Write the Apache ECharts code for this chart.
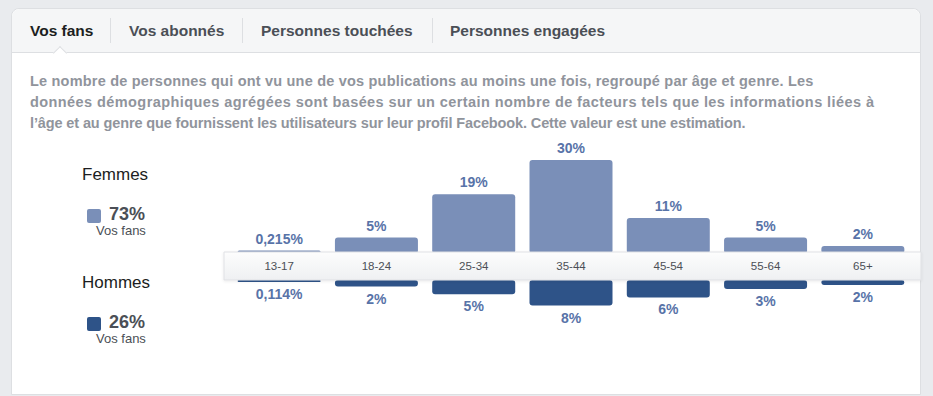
<!DOCTYPE html>
<html lang="fr">
<head>
<meta charset="utf-8">
<title>Vos fans</title>
<script src="https://cdn.jsdelivr.net/npm/echarts@6/dist/echarts.min.js"></script>
<style>
    html, body { margin: 0; padding: 0; }
    body {
        width: 933px; height: 396px; overflow: hidden; position: relative;
        background: #e9ebee;
        font-family: "Liberation Sans", Arial, sans-serif;
    }
    .card {
        position: absolute; left: 11px; top: 8px; width: 908px; height: 385px;
        background: #fff; border: 1px solid #dddfe2; border-radius: 8px 8px 0 0;
    }
    .tabs {
        position: relative; height: 43px; background: #f5f6f7;
        border-bottom: 1px solid #dddfe2; border-radius: 8px 8px 0 0;
    }
    .tab {
        position: absolute; top: 0; line-height: 44px; font-size: 15.5px; font-weight: bold;
        color: #4b4f56; white-space: nowrap;
    }
    .tab.active { color: #1c1e21; }
    .sep { position: absolute; top: 9px; width: 1px; height: 25px; background: #dddfe2; }
    .notch {
        position: absolute; left: 43px; top: 38.5px; width: 9px; height: 9px;
        background: #fff; border-top: 1px solid #dddfe2; border-left: 1px solid #dddfe2;
        transform: rotate(45deg);
    }
    .desc {
        position: absolute; left: 30px; top: 71px; font-size: 14.5px; line-height: 21px;
        letter-spacing: 0.2px; font-weight: bold; color: #90949c; white-space: nowrap;
    }
    .desc .l2 { letter-spacing: 0.42px; }
    .desc .l3 { letter-spacing: -0.12px; }
    .leg-title { position: absolute; left: 82px; font-size: 17px; color: #1c1e21; line-height: 20px; }
    .leg-sq { position: absolute; left: 87px; width: 14px; height: 14px; border-radius: 2px; }
    .leg-pct { position: absolute; left: 109px; font-size: 18px; font-weight: bold; color: #4b4f56; line-height: 16px; }
    .leg-sub { position: absolute; left: 96px; font-size: 13px; color: #4b4f56; line-height: 16px; }
    #chart { position: absolute; left: 0; top: 0; width: 933px; height: 396px; pointer-events: none; }
</style>
</head>
<body>
<div class="card">
    <div class="tabs">
        <span class="tab active" style="left:18px">Vos fans</span>
        <span class="sep" style="left:98px"></span>
        <span class="tab" style="left:117px">Vos abonnés</span>
        <span class="sep" style="left:230px"></span>
        <span class="tab" style="left:249px">Personnes touchées</span>
        <span class="sep" style="left:420px"></span>
        <span class="tab" style="left:438px">Personnes engagées</span>
        <span class="notch"></span>
    </div>
</div>
<div class="desc">
    <span class="l1">Le nombre de personnes qui ont vu une de vos publications au moins une fois, regroupé par âge et genre. Les</span><br>
    <span class="l2">données démographiques agrégées sont basées sur un certain nombre de facteurs tels que les informations liées à</span><br>
    <span class="l3">l’âge et au genre que fournissent les utilisateurs sur leur profil Facebook. Cette valeur est une estimation.</span>
</div>

<div class="leg-title" style="top:165px">Femmes</div>
<div class="leg-sq" style="top:209px;background:#7a8fb8"></div>
<div class="leg-pct" style="top:206px">73%</div>
<div class="leg-sub" style="top:223px">Vos fans</div>

<div class="leg-title" style="top:273px">Hommes</div>
<div class="leg-sq" style="top:317px;background:#2e5388"></div>
<div class="leg-pct" style="top:314px">26%</div>
<div class="leg-sub" style="top:331px">Vos fans</div>

<div id="chart"></div>

<script>
/** Répartition des fans par âge et genre : barres femmes vers le haut, hommes vers le bas */
(function () {
    "use strict";

    // ---- données ----
    var tranchesAge = ["13-17", "18-24", "25-34", "35-44", "45-54", "55-64", "65+"];
    var femmesValeurs = [0.215, 5.1, 19, 30, 11.4, 5.1, 2.4];
    var hommesValeurs = [0.114, 2.1, 4.6, 8.2, 5.6, 2.9, 1.6];
    var femmesEtiquettes = ["0,215%", "5%", "19%", "30%", "11%", "5%", "2%"];
    var hommesEtiquettes = ["0,114%", "2%", "5%", "8%", "6%", "3%", "2%"];

    var police = "'Liberation Sans', Arial, sans-serif";

    var chart = echarts.init(document.getElementById("chart"), null, { renderer: "svg" });

    /** style commun des étiquettes de valeur */
    function etiquette(position, textes) {
        return {
            show: true,
            position: position,
            distance: 5,
            color: "#5873a8",
            fontSize: 14,
            fontWeight: "bold",
            fontFamily: police,
            formatter: function (p) { return textes[p.dataIndex]; },
        };
    }

    chart.setOption({
        animation: false,
        grid: [
            { left: 230.5, right: 21.5, top: 160, height: 93.5 },
            { left: 230.5, right: 21.5, top: 280, height: 93.5 },
        ],
        xAxis: [
            {
                type: "category", data: tranchesAge, gridIndex: 0, z: 20,
                axisLine: { show: false }, axisTick: { show: false },
                axisLabel: { color: "#4b4f56", fontSize: 11.5, fontFamily: police, margin: 12.5, verticalAlign: "middle" },
            },
            { type: "category", data: tranchesAge, gridIndex: 1, show: false },
        ],
        yAxis: [
            { type: "value", gridIndex: 0, min: 0, max: 30, show: false },
            { type: "value", gridIndex: 1, min: 0, max: 30, inverse: true, show: false },
        ],
        // bandeau des tranches d'âge, posé au-dessus du pied des barres
        graphic: [
            {
                type: "rect", z: 10,
                shape: { x: 224, y: 252, width: 697, height: 28 },
                style: {
                    fill: new echarts.graphic.LinearGradient(0, 0, 0, 1, [
                        { offset: 0, color: "#fdfdfd" },
                        { offset: 1, color: "#eff0f2" },
                    ]),
                    stroke: "#dfe1e5", lineWidth: 1,
                    shadowBlur: 3, shadowColor: "rgba(0,0,0,0.08)", shadowOffsetY: 1,
                },
            },
        ],
        series: [
            {
                name: "Femmes", type: "bar", data: femmesValeurs,
                xAxisIndex: 0, yAxisIndex: 0, barWidth: 83, barMinHeight: 3,
                itemStyle: { color: "#7a8fb8", borderRadius: 3 },
                label: etiquette("top", femmesEtiquettes),
            },
            {
                name: "Hommes", type: "bar", data: hommesValeurs,
                xAxisIndex: 1, yAxisIndex: 1, barWidth: 83, barMinHeight: 2,
                itemStyle: { color: "#2e5388", borderRadius: 3 },
                label: etiquette("bottom", hommesEtiquettes),
            },
        ],
    });
})();
</script>
</body>
</html>
